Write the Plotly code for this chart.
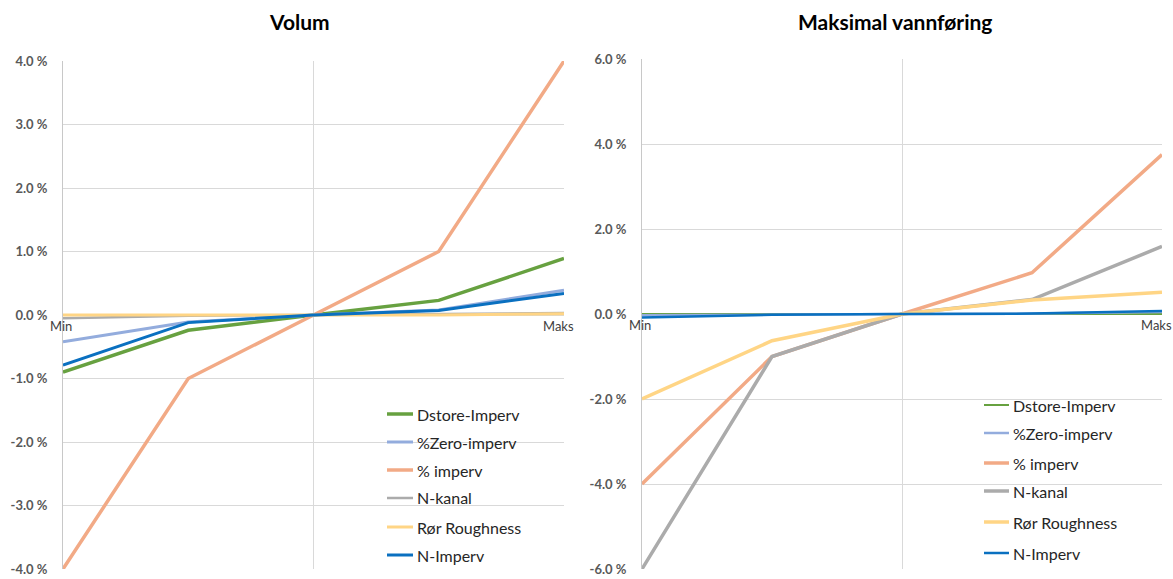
import plotly.graph_objects as go

W, H = 1173, 579

steps = [0, 1, 2, 3, 4]
step_labels = ["Min", "", "", "", "Maks"]

series_names = ["Dstore-Imperv", "%Zero-imperv", "% imperv", "N-kanal", "Rør Roughness", "N-Imperv"]
series_colors = ["#67A140", "#93ACDD", "#F2AA86", "#ABABAB", "#FFD585", "#0A70C0"]

# Volum (%)
vol_dstore = [-0.90, -0.24, 0.0, 0.23, 0.89]
vol_zero = [-0.42, -0.11, 0.0, 0.08, 0.39]
vol_imperv = [-4.0, -1.0, 0.0, 1.0, 4.0]
vol_nkanal = [-0.05, -0.01, 0.0, 0.01, 0.03]
vol_ror = [0.0, 0.0, 0.0, 0.0, 0.02]
vol_nimperv = [-0.79, -0.12, 0.0, 0.07, 0.34]

# Maksimal vannføring (%)
q_dstore = [0.0, 0.0, 0.0, 0.0, 0.0]
q_zero = [-0.03, -0.01, 0.0, 0.01, 0.05]
q_imperv = [-4.0, -1.0, 0.0, 0.97, 3.75]
q_nkanal = [-6.0, -1.0, 0.0, 0.34, 1.59]
q_ror = [-2.0, -0.63, 0.0, 0.33, 0.51]
q_nimperv = [-0.08, -0.02, 0.0, 0.01, 0.07]

vol_ticks = [-4, -3, -2, -1, 0, 1, 2, 3, 4]
q_ticks = [-6, -4, -2, 0, 2, 4, 6]
vol_ticktext = [f"{v:.1f} %" for v in vol_ticks]
q_ticktext = [f"{v:.1f} %" for v in q_ticks]

vol_series = [vol_dstore, vol_zero, vol_imperv, vol_nkanal, vol_ror, vol_nimperv]
q_series = [q_dstore, q_zero, q_imperv, q_nkanal, q_ror, q_nimperv]
vol_widths = [3.5, 3, 3.5, 2.5, 3, 3]
q_widths = [2, 2.5, 3.5, 3.5, 3.5, 2.5]

fig = go.Figure()
for name, color, ys, lw in zip(series_names, series_colors, vol_series, vol_widths):
    fig.add_trace(go.Scatter(x=steps, y=ys, mode="lines", name=name,
                             line=dict(color=color, width=lw),
                             xaxis="x", yaxis="y", showlegend=False))
for name, color, ys, lw in zip(series_names, series_colors, q_series, q_widths):
    fig.add_trace(go.Scatter(x=steps, y=ys, mode="lines", name=name,
                             line=dict(color=color, width=lw),
                             xaxis="x2", yaxis="y2", showlegend=False))

def px_x(p):
    return p / W

def px_y(p):
    return 1 - p / H

grid = "#D9D9D9"
font_main = "Lato, Open Sans, sans-serif"
tickfont = dict(family=font_main, size=13, color="#595959", weight="bold")

xcommon = dict(range=[0, 4], tickvals=[0, 2, 4], showticklabels=False, showgrid=True,
               gridcolor=grid, gridwidth=1, zeroline=False, showline=False, ticks="",
               automargin=False)
ycommon = dict(tickfont=tickfont, showgrid=True, gridcolor=grid, zeroline=False, ticks="",
               showline=True, linecolor="#C8C8C8", linewidth=1, ticklabelstandoff=12,
               automargin=False)
fig.update_layout(
    xaxis=dict(domain=[px_x(63), px_x(564)], anchor="y", **xcommon),
    xaxis2=dict(domain=[px_x(642), px_x(1162)], anchor="y2", **xcommon),
    yaxis=dict(domain=[px_y(569), px_y(61)], anchor="x", range=[-4, 4],
               tickvals=vol_ticks, ticktext=vol_ticktext, **ycommon),
    yaxis2=dict(domain=[px_y(569), px_y(59)], anchor="x2", range=[-6, 6],
                tickvals=q_ticks, ticktext=q_ticktext, **ycommon),
    width=W, height=H,
    margin=dict(l=0, r=0, t=0, b=0, pad=0, autoexpand=False),
    paper_bgcolor="white", plot_bgcolor="white",
    showlegend=False,
)

annotations = []

# Titles
annotations.append(dict(text="<b>Volum</b>", x=px_x(299), y=px_y(22), xref="paper", yref="paper",
                        showarrow=False, xanchor="center", yanchor="middle",
                        font=dict(family=font_main, size=21, color="#000000")))
annotations.append(dict(text="<b>Maksimal vannføring</b>", x=px_x(895), y=px_y(22), xref="paper",
                        yref="paper", showarrow=False, xanchor="center", yanchor="middle",
                        font=dict(family=font_main, size=21, color="#000000")))

# Category labels at the zero line
for xa, ya in [("x", "y"), ("x2", "y2")]:
    for s, lab in zip(steps, step_labels):
        if lab:
            annotations.append(dict(text=lab, x=s, y=0, xref=xa, yref=ya, showarrow=False,
                                    xanchor="center", yanchor="top", yshift=-1,
                                    xshift=-6 if s == steps[-1] else -2,
                                    font=dict(family=font_main, size=13, color="#404040")))

# Legends
shapes = []
legend_specs = [
    (387, 413, 415, [414, 442, 470, 498, 527, 555], vol_widths),
    (984, 1009, 1011, [405, 433, 463, 491, 522, 553], q_widths),
]
for x0, x1, tx, ys, widths in legend_specs:
    for name, color, yy, lw in zip(series_names, series_colors, ys, widths):
        shapes.append(dict(type="line", xref="paper", yref="paper",
                           x0=px_x(x0), x1=px_x(x1), y0=px_y(yy), y1=px_y(yy),
                           line=dict(color=color, width=lw)))
        annotations.append(dict(text=name, x=px_x(tx), y=px_y(yy), xref="paper", yref="paper",
                                showarrow=False, xanchor="left", yanchor="middle",
                                font=dict(family=font_main, size=16, color="#262626")))

fig.update_layout(annotations=annotations, shapes=shapes)
fig.write_html("out.html")
